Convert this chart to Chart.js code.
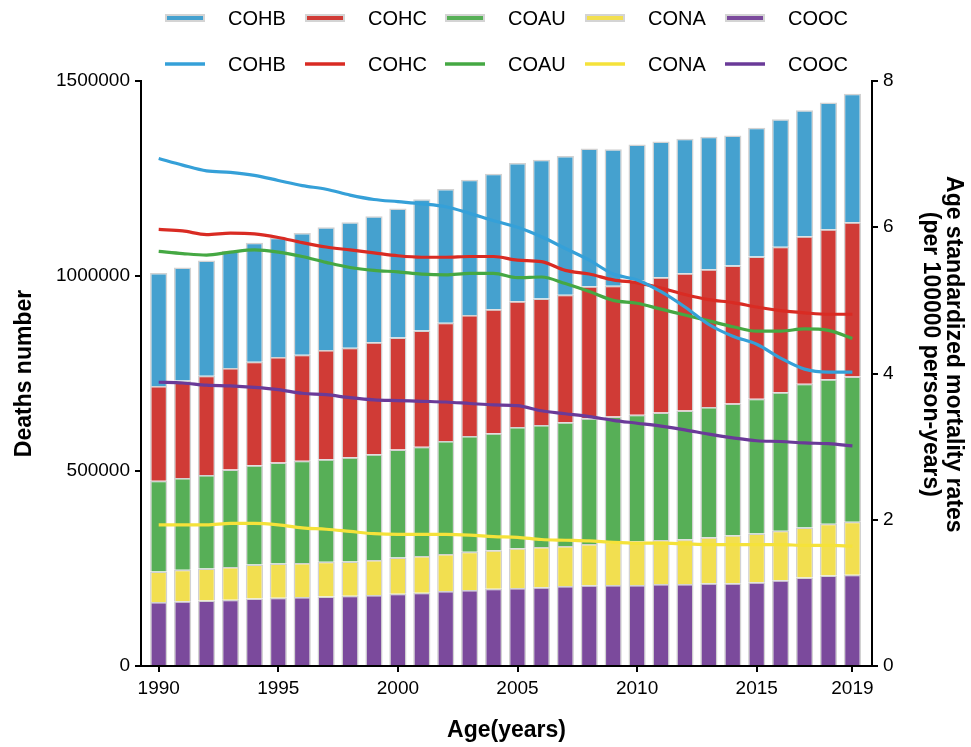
<!DOCTYPE html>
<html>
<head>
<meta charset="utf-8">
<script src="https://cdn.jsdelivr.net/npm/chart.js@4.4.1/dist/chart.umd.min.js"></script>
<style>
  body { margin: 0; background: #fff; }
  #wrap { width: 971px; height: 747px; }
</style>
</head>
<body>
<div id="wrap"><canvas id="myChart" width="971" height="747"></canvas></div>
<script>
// categories
const years = [1990, 1991, 1992, 1993, 1994, 1995, 1996, 1997, 1998, 1999,
  2000, 2001, 2002, 2003, 2004, 2005, 2006, 2007, 2008, 2009,
  2010, 2011, 2012, 2013, 2014, 2015, 2016, 2017, 2018, 2019];
const xTickYears = [1990, 1995, 2000, 2005, 2010, 2015, 2019];
const seriesNames = ["COHB", "COHC", "COAU", "CONA", "COOC"];

// deaths number (bars)
const deathsCOHB = [290000, 290000, 296000, 301000, 305000, 306000, 312000, 315000, 322000, 323000,
  331000, 337000, 343000, 347000, 347000, 355000, 356000, 356000, 353000, 350000,
  347000, 348000, 345000, 340000, 333000, 330000, 327000, 323000, 325000, 329000];
const deathsCOHC = [243000, 250000, 254000, 260000, 265000, 270000, 272000, 280000, 281000, 287000,
  287000, 298000, 303000, 310000, 318000, 322000, 324000, 327000, 339000, 335000,
  346000, 347000, 352000, 353000, 354000, 365000, 373000, 378000, 385000, 396000];
const deathsCOAU = [233000, 235000, 240000, 250000, 255000, 259000, 262000, 263000, 267000, 271000,
  277000, 280000, 290000, 297000, 300000, 311000, 313000, 317000, 322000, 322000,
  324000, 327000, 330000, 334000, 338000, 345000, 355000, 369000, 370000, 372000];
const deathsCONA = [78000, 81000, 82000, 84000, 87000, 88000, 87000, 89000, 88000, 90000,
  93000, 94000, 95000, 98000, 99000, 102000, 103000, 103000, 106000, 110000,
  112000, 113000, 115000, 118000, 123000, 125000, 127000, 128000, 133000, 136000];
const deathsCOOC = [164000, 166000, 168000, 170000, 173000, 175000, 177000, 178000, 180000, 182000,
  185000, 188000, 192000, 195000, 198000, 200000, 202000, 205000, 207000, 208000,
  208000, 210000, 210000, 212000, 212000, 215000, 220000, 227000, 232000, 234000];

// age standardized mortality rates (lines)
const rateCOHB = [6.94, 6.85, 6.77, 6.75, 6.71, 6.64, 6.57, 6.52, 6.44, 6.38,
  6.35, 6.32, 6.28, 6.19, 6.09, 6.00, 5.87, 5.71, 5.55, 5.36,
  5.28, 5.12, 4.91, 4.67, 4.51, 4.40, 4.21, 4.06, 4.02, 4.02];
const rateCOHC = [5.97, 5.95, 5.90, 5.92, 5.91, 5.86, 5.79, 5.73, 5.69, 5.65,
  5.61, 5.59, 5.59, 5.60, 5.60, 5.55, 5.53, 5.41, 5.36, 5.28,
  5.24, 5.17, 5.08, 5.01, 4.97, 4.91, 4.86, 4.83, 4.81, 4.81];
const rateCOAU = [5.67, 5.64, 5.62, 5.66, 5.69, 5.66, 5.60, 5.52, 5.45, 5.41,
  5.39, 5.36, 5.35, 5.37, 5.37, 5.31, 5.32, 5.23, 5.12, 5.00,
  4.96, 4.88, 4.80, 4.72, 4.64, 4.58, 4.58, 4.61, 4.59, 4.48];
const rateCONA = [1.93, 1.93, 1.93, 1.95, 1.95, 1.93, 1.89, 1.87, 1.84, 1.81,
  1.80, 1.80, 1.80, 1.79, 1.77, 1.76, 1.73, 1.72, 1.71, 1.69,
  1.68, 1.68, 1.67, 1.66, 1.66, 1.66, 1.66, 1.65, 1.65, 1.64];
const rateCOOC = [3.88, 3.87, 3.84, 3.83, 3.81, 3.78, 3.73, 3.71, 3.67, 3.64,
  3.63, 3.62, 3.61, 3.59, 3.57, 3.56, 3.49, 3.45, 3.41, 3.36,
  3.32, 3.28, 3.23, 3.17, 3.12, 3.08, 3.07, 3.05, 3.04, 3.01];

const barColors = ["#45a1cf", "#d03b36", "#57af57", "#f2df50", "#7b4a9c"];
const lineColors = ["#35a0d8", "#d92b23", "#45a843", "#f5e23a", "#6a3a98"];

const FONT = '"Liberation Sans", Arial, sans-serif';
Chart.defaults.font.family = FONT;
Chart.defaults.color = "#000";

function toPoints(values) {
  return years.map((yr, i) => ({ x: yr, y: values[i] }));
}

const barValues = [deathsCOHB, deathsCOHC, deathsCOAU, deathsCONA, deathsCOOC];
const lineValues = [rateCOHB, rateCOHC, rateCOAU, rateCONA, rateCOOC];

// lines first (drawn on top), then bars stacked bottom -> top
const datasets = [];
for (let i = 0; i < 5; i++) {
  datasets.push({
    type: "line",
    label: seriesNames[i],
    data: toPoints(lineValues[i]),
    yAxisID: "y1",
    borderColor: lineColors[i],
    backgroundColor: lineColors[i],
    borderWidth: 3.2,
    pointRadius: 0,
    cubicInterpolationMode: "monotone",
    order: 0,
  });
}
for (let i = 4; i >= 0; i--) {
  datasets.push({
    type: "bar",
    label: seriesNames[i],
    data: toPoints(barValues[i]),
    yAxisID: "y",
    backgroundColor: barColors[i],
    borderColor: "#d2d2d2",
    borderWidth: 1.5,
    barPercentage: 1,
    categoryPercentage: 0.72,
    order: 1,
  });
}

// two legend rows: bar swatches, then line swatches
const legendPlugin = {
  id: "twoRowLegend",
  afterDraw(chart) {
    const ctx = chart.ctx;
    ctx.save();
    ctx.font = "20px " + FONT;
    ctx.textBaseline = "middle";
    seriesNames.forEach((name, i) => {
      const x = 165 + i * 140;
      ctx.fillStyle = "#d4d4d4";
      ctx.fillRect(x, 14, 40, 8);
      ctx.fillStyle = barColors[i];
      ctx.fillRect(x + 2, 16, 36, 4);
      ctx.strokeStyle = lineColors[i];
      ctx.lineWidth = 3.5;
      ctx.beginPath();
      ctx.moveTo(x, 64);
      ctx.lineTo(x + 40, 64);
      ctx.stroke();
      ctx.fillStyle = "#000";
      ctx.fillText(name, x + 63, 19);
      ctx.fillText(name, x + 63, 65);
    });
    ctx.restore();
  },
};

const axisGrid = { display: true, offset: false, drawOnChartArea: false, drawTicks: true, tickLength: 6, color: "#000", lineWidth: 2 };
const axisBorder = { display: true, color: "#000", width: 2 };

const ctx = document.getElementById("myChart").getContext("2d");
const chart = new Chart(ctx, {
  data: { datasets: datasets },
  plugins: [legendPlugin],
  options: {
    responsive: false,
    animation: false,
    devicePixelRatio: 1,
    layout: { padding: { top: 81, left: 0, right: 0, bottom: 0 } },
    plugins: { legend: { display: false }, tooltip: { enabled: false } },
    scales: {
      x: {
        type: "linear",
        stacked: true,
        offset: false,
        min: 1989.26,
        max: 2019.82,
        grid: axisGrid,
        border: axisBorder,
        afterBuildTicks: (scale) => { scale.ticks = xTickYears.map((v) => ({ value: v })); },
        afterFit: (scale) => { scale.height = 81; },
        ticks: { font: { size: 19 }, padding: 5, maxRotation: 0, callback: (v) => String(v) },
        title: { display: true, text: "Age(years)", font: { size: 23, weight: "bold", lineHeight: 1 }, padding: { top: 0, bottom: 5 } },
      },
      y: {
        type: "linear",
        position: "left",
        stacked: true,
        min: 0,
        max: 1500000,
        grid: axisGrid,
        border: axisBorder,
        afterFit: (scale) => { scale.width = 141; },
        ticks: { stepSize: 500000, font: { size: 19 }, padding: 5, callback: (v) => String(v) },
        title: { display: true, text: "Deaths number", font: { size: 23, weight: "bold", lineHeight: 1 }, padding: { top: 13, bottom: 0 } },
      },
      y1: {
        type: "linear",
        position: "right",
        min: 0,
        max: 8,
        grid: axisGrid,
        border: axisBorder,
        afterFit: (scale) => { scale.width = 99; },
        ticks: { stepSize: 2, font: { size: 19 }, padding: 5 },
        title: {
          display: true,
          text: ["Age standardized mortality rates      ", "(per 100000 person-years)      "],
          font: { size: 23, weight: "bold", lineHeight: 1 },
          padding: { top: 6, bottom: 0 },
        },
      },
    },
  },
});
</script>
</body>
</html>
